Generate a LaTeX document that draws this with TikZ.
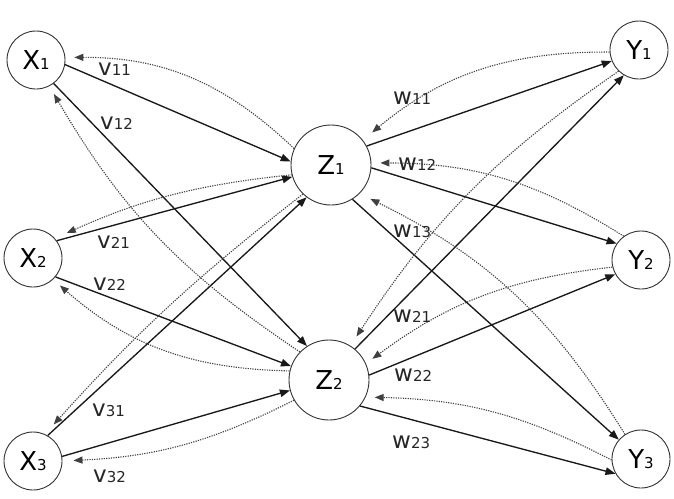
\documentclass[tikz,border=0pt]{standalone}
\usepackage{fontspec}
\setmainfont{DejaVu Sans}
\usetikzlibrary{arrows.meta}
\newcommand{\nd}[2]{{\fontsize{26}{26}\selectfont #1}{\fontsize{15}{15}\selectfont #2}}
\newcommand{\lb}[2]{{\fontsize{23}{23}\selectfont #1}{\fontsize{15}{15}\selectfont #2}}
\begin{document}
\begin{tikzpicture}[x=1pt,y=-1pt,
 unit/.style={circle,draw=black!80,line width=0.9pt,inner sep=0pt,minimum size=58pt},
 hid/.style={circle,draw=black!80,line width=0.9pt,inner sep=0pt,minimum size=80pt},
 fwd/.style={line width=1.35pt,draw=black!90,-{Triangle[length=10pt,width=7.5pt]}},
 bwd/.style={line width=1.1pt,draw=black!75,dash pattern=on 1.2pt off 1.2pt,-{Triangle[length=9pt,width=7pt]}},
 wt/.style={anchor=base west,inner sep=0pt,text=black!85}]
\useasboundingbox (0,0) rectangle (674,498);
\node[unit] (X1) at (36,60) {\nd{X}{1}};
\node[unit] (X2) at (33,258) {\nd{X}{2}};
\node[unit] (X3) at (33,461) {\nd{X}{3}};
\node[hid] (Z1) at (331,165) {\nd{Z}{1}};
\node[hid] (Z2) at (329,380) {\nd{Z}{2}};
\node[unit] (Y1) at (639,50) {\nd{Y}{1}};
\node[unit] (Y2) at (641,260) {\nd{Y}{2}};
\node[unit] (Y3) at (641,459) {\nd{Y}{3}};
% forward connections
\draw[fwd] (X1.-9) -- (Z1.175);
\draw[fwd] (X1.-53) -- (Z2.123);
\draw[fwd] (X2.36) -- (Z1.197);
\draw[fwd] (X2.-40) -- (Z2.160);
\draw[fwd] (X3.60) -- (Z1.233);
\draw[fwd] (X3.9) -- (Z2.195);
\draw[fwd] (Z1.28) -- (Y1.202);
\draw[fwd] (Z1.-4) -- (Y2.146);
\draw[fwd] (Z1.-58) -- (Y3.139);
\draw[fwd] (Z2.50) -- (Y1.239);
\draw[fwd] (Z2.7) -- (Y2.209);
\draw[fwd] (Z2.-40) -- (Y3.210);
% backward connections
\draw[bwd,shorten >=9pt] (Z1.156) to[bend right=22] (X1.5);
\draw[bwd,shorten >=13pt] (Z1.194) to[bend right=9] (X2.42);
\draw[bwd,shorten >=13pt] (Z1.226) to[bend right=5] (X3.66);
\draw[bwd,shorten >=9pt] (Z2.136) to[bend left=13] (X1.-63);
\draw[bwd,shorten >=9pt] (Z2.167) to[bend left=20] (X2.-47);
\draw[bwd,shorten >=11pt] (Z2.210) to[bend left=12] (X3.0);
\draw[bwd,shorten >=12pt] (Y1.184) to[bend right=20] (Z1.38);
\draw[bwd,shorten >=11pt] (Y1.226) to[bend right=11] (Z2.58);
\draw[bwd,shorten >=9pt] (Y2.126) to[bend right=16] (Z1.3);
\draw[bwd,shorten >=8pt] (Y2.194) to[bend right=15] (Z2.24);
\draw[bwd,shorten >=12pt] (Y3.123) to[bend right=16] (Z1.-45);
\draw[bwd,shorten >=9pt] (Y3.182) to[bend right=13] (Z2.-25);
% weight labels
\node[wt] (v11) at (98,75) {\lb{v}{11}};
\node[wt] (v12) at (100,129) {\lb{v}{12}};
\node[wt] (v21) at (97,248) {\lb{v}{21}};
\node[wt] (v22) at (93,290) {\lb{v}{22}};
\node[wt] (v31) at (92,416) {\lb{v}{31}};
\node[wt] (v32) at (93,482) {\lb{v}{32}};
\node[wt] (w11) at (393,104) {\lb{w}{11}};
\node[wt] (w12) at (398,170) {\lb{w}{12}};
\node[wt] (w13) at (393,237) {\lb{w}{13}};
\node[wt] (w21) at (393,322) {\lb{w}{21}};
\node[wt] (w22) at (394,381) {\lb{w}{22}};
\node[wt] (w23) at (392,448) {\lb{w}{23}};
\end{tikzpicture}
\end{document}
